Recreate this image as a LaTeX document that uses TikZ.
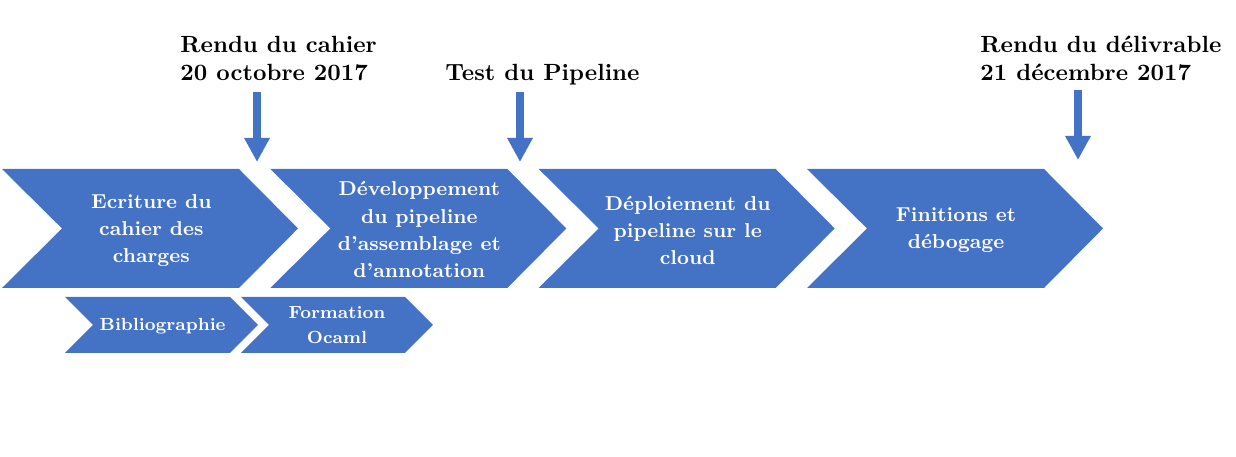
\documentclass[tikz,border=0pt]{standalone}
\usepackage{xcolor}
\usepackage{tikz}
\usetikzlibrary{arrows.meta}
\definecolor{tlblue}{HTML}{4472C4}
\tikzset{
  tlchev/.style={fill=tlblue, draw=none},
  tltext/.style={text=white, font=\fontsize{8.6}{11.6}\selectfont\bfseries, align=center, inner sep=0pt},
  tlsmall/.style={text=white, font=\fontsize{7.5}{10.6}\selectfont\bfseries, align=center, inner sep=0pt},
  tllabel/.style={text=black, font=\bfseries, align=left, inner sep=0pt, anchor=north west},
  tlarrow/.style={draw=tlblue, line width=0.12cm, -{Triangle[width=0.36cm,length=0.36cm]}},
}
\begin{document}
\begin{tikzpicture}
\useasboundingbox (0,0) rectangle (18.540,6.855);
\fill[tlchev] (0.030,4.320) -- (3.585,4.320) -- (4.470,3.428) -- (3.585,2.535) -- (0.030,2.535) -- (0.930,3.428) -- cycle;
\fill[tlchev] (4.055,4.320) -- (7.610,4.320) -- (8.495,3.428) -- (7.610,2.535) -- (4.055,2.535) -- (4.955,3.428) -- cycle;
\fill[tlchev] (8.080,4.320) -- (11.635,4.320) -- (12.520,3.428) -- (11.635,2.535) -- (8.080,2.535) -- (8.980,3.428) -- cycle;
\fill[tlchev] (12.105,4.320) -- (15.660,4.320) -- (16.545,3.428) -- (15.660,2.535) -- (12.105,2.535) -- (13.005,3.428) -- cycle;
\fill[tlchev] (0.975,2.400) -- (3.450,2.400) -- (3.870,1.980) -- (3.450,1.560) -- (0.975,1.560) -- (1.395,1.980) -- cycle;
\fill[tlchev] (3.615,2.400) -- (6.075,2.400) -- (6.495,1.980) -- (6.075,1.560) -- (3.615,1.560) -- (4.035,1.980) -- cycle;
\node[tltext] (cahier) at (2.270,3.400) {Ecriture du\\cahier des\\charges};
\node[tltext] (dev) at (6.290,3.410) {Développement\\du pipeline\\d'assemblage et\\d'annotation};
\node[tltext] (deploi) at (10.315,3.400) {Déploiement du\\pipeline sur le\\cloud};
\node[tltext] (finit) at (14.340,3.400) {Finitions et\\débogage};
\node[tlsmall] (biblio) at (2.440,1.960) {Bibliographie};
\node[tlsmall] (ocaml) at (5.055,1.975) {Formation\\Ocaml};
\node[tllabel] (rendu1) at (2.700,6.320) {Rendu du cahier\\20 octobre 2017};
\node[tllabel] (test) at (6.675,5.900) {Test du Pipeline};
\node[tllabel] (rendu2) at (14.700,6.320) {Rendu du délivrable\\21 décembre 2017};
\coordinate (a1s) at (3.855,5.475);
\coordinate (a1e) at (3.855,4.425);
\coordinate (a2s) at (7.800,5.475);
\coordinate (a2e) at (7.800,4.425);
\coordinate (a3s) at (16.170,5.505);
\coordinate (a3e) at (16.170,4.455);
\draw[tlarrow] (a1s) -- (a1e);
\draw[tlarrow] (a2s) -- (a2e);
\draw[tlarrow] (a3s) -- (a3e);
\end{tikzpicture}
\end{document}
